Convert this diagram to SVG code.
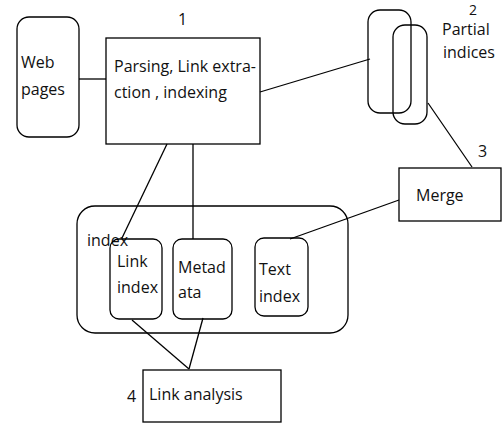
<svg xmlns="http://www.w3.org/2000/svg" width="502" height="424" viewBox="0 0 502 424">
<style>
.s{fill:none;stroke:#000;stroke-width:1.3}
.t{font-family:"Open Sans","Liberation Sans",sans-serif;font-size:16px;fill:#111}
</style>
<rect width="502" height="424" fill="#fff"/>
<g id="connectors" class="s">
<line x1="79" y1="79" x2="106" y2="79"/>
<line x1="260" y1="92" x2="370" y2="59"/>
<line x1="428" y1="103" x2="472" y2="167"/>
<line x1="399" y1="200" x2="290" y2="239"/>
<line x1="167" y1="144" x2="122" y2="238"/>
<line x1="193" y1="144" x2="193" y2="239"/>
<line x1="132" y1="320" x2="189" y2="369"/>
<line x1="203" y1="318" x2="189" y2="369"/>
</g>
<g id="webpages">
<rect class="s" x="17" y="17" width="62" height="120" rx="12"/>
<text class="t" x="21" y="68">Web</text>
<text class="t" x="21" y="95">pages</text>
</g>
<g id="parsing">
<rect class="s" x="106" y="38" width="154" height="106"/>
<text class="t" x="178" y="25">1</text>
<text class="t" x="114" y="72">Parsing, Link extra-</text>
<text class="t" x="114" y="98">ction , indexing</text>
</g>
<g id="partial">
<rect class="s" x="368" y="10" width="43" height="103" rx="12"/>
<rect class="s" x="393" y="25" width="34" height="99" rx="12"/>
<text class="t" x="469" y="15" style="font-size:14px">2</text>
<text class="t" x="442" y="35">Partial</text>
<text class="t" x="443" y="58">indices</text>
</g>
<g id="merge">
<rect class="s" x="399" y="168" width="102" height="53"/>
<text class="t" x="478" y="157">3</text>
<text class="t" x="416" y="201">Merge</text>
</g>
<g id="index">
<rect class="s" x="77" y="206" width="271" height="127" rx="18"/>
<text class="t" x="87" y="246">index</text>
</g>
<g id="linkindex">
<rect class="s" x="110" y="239" width="52" height="80" rx="9"/>
<text class="t" x="117" y="267">Link</text>
<text class="t" x="117" y="293">index</text>
</g>
<g id="metadata">
<rect class="s" x="173" y="239" width="59" height="80" rx="9"/>
<text class="t" x="178" y="273">Metad</text>
<text class="t" x="178" y="298">ata</text>
</g>
<g id="textindex">
<rect class="s" x="255" y="238" width="53" height="78" rx="9"/>
<text class="t" x="259" y="275">Text</text>
<text class="t" x="259" y="302">index</text>
</g>
<g id="linkanalysis">
<rect class="s" x="143" y="370" width="138" height="52"/>
<text class="t" x="127" y="402">4</text>
<text class="t" x="149" y="400">Link analysis</text>
</g>
</svg>
